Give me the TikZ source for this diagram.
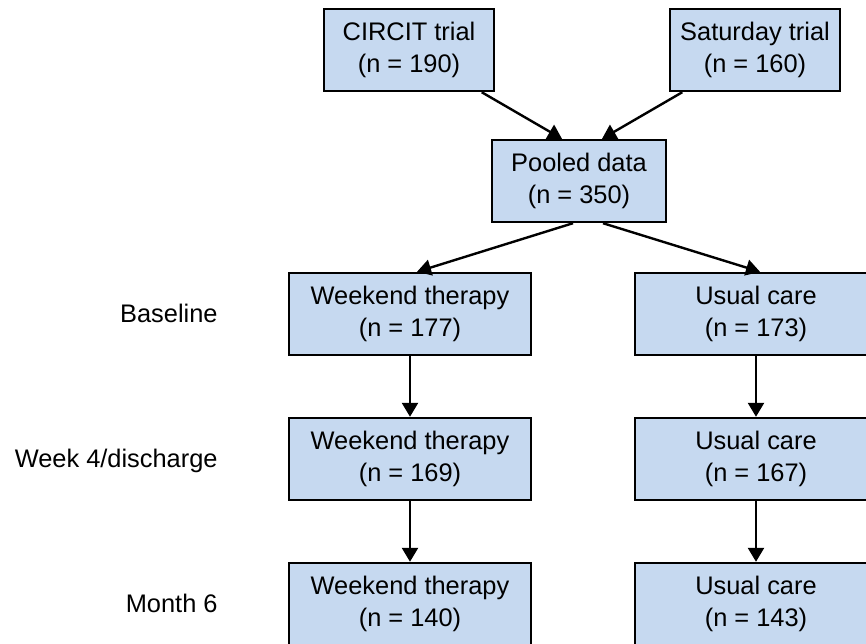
\documentclass[tikz,border=0pt]{standalone}
\usepackage{fontspec}
\setmainfont{Liberation Sans}
\usetikzlibrary{arrows.meta}
\definecolor{boxblue}{RGB}{198,217,240}

\begin{document}
\begin{tikzpicture}[x=0.5pt,y=-0.5pt,
	box node/.style={rectangle, draw, line width=1.2pt, fill=boxblue, align=center, inner sep=0pt, minimum height=41pt, font=\fontsize{12.7}{16}\selectfont},
	trial node/.style={box node, minimum width=85pt},
	pool node/.style={box node, minimum width=87pt},
	arm node/.style={box node, minimum width=121pt},
	time node/.style={anchor=base east, inner sep=0pt, font=\fontsize{12.7}{16}\selectfont},
	flow/.style={line width=1.2pt, -{Triangle[length=7pt,width=8pt]}}]
	\path[use as bounding box, clip] (0,0) rectangle (866,643);
	
	% Nodes
	\node[trial node] (1) at (409,50) {CIRCIT trial\\(n = 190)};
	\node[trial node] (2) at (755,50) {Saturday trial\\(n = 160)};
	\node[pool node] (3) at (579,181) {Pooled data\\(n = 350)};
	\node[arm node] (4) at (410,314) {Weekend therapy\\(n = 177)};
	\node[arm node] (5) at (756,314) {Usual care\\(n = 173)};
	\node[arm node] (6) at (410,459) {Weekend therapy\\(n = 169)};
	\node[arm node] (7) at (756,459) {Usual care\\(n = 167)};
	\node[arm node] (8) at (410,604) {Weekend therapy\\(n = 140)};
	\node[arm node] (9) at (756,604) {Usual care\\(n = 143)};
	
	% time points
	\node[time node] (t1) at (218,322) {Baseline};
	\node[time node] (t2) at (218,467) {Week 4/discharge};
	\node[time node] (t3) at (218,612) {Month 6};
	
	\path[flow]
	(1) edge ([xshift=-8.5pt]3.north)
	(2) edge ([xshift=11.5pt]3.north)
	
	([xshift=-3pt]3.south) edge ([xshift=3.5pt]4.north)
	([xshift=12pt]3.south) edge ([xshift=2pt]5.north)
	
	(4) edge (6)
	(5) edge (7)
	(6) edge (8)
	(7) edge (9);
	
\end{tikzpicture}
\end{document}
